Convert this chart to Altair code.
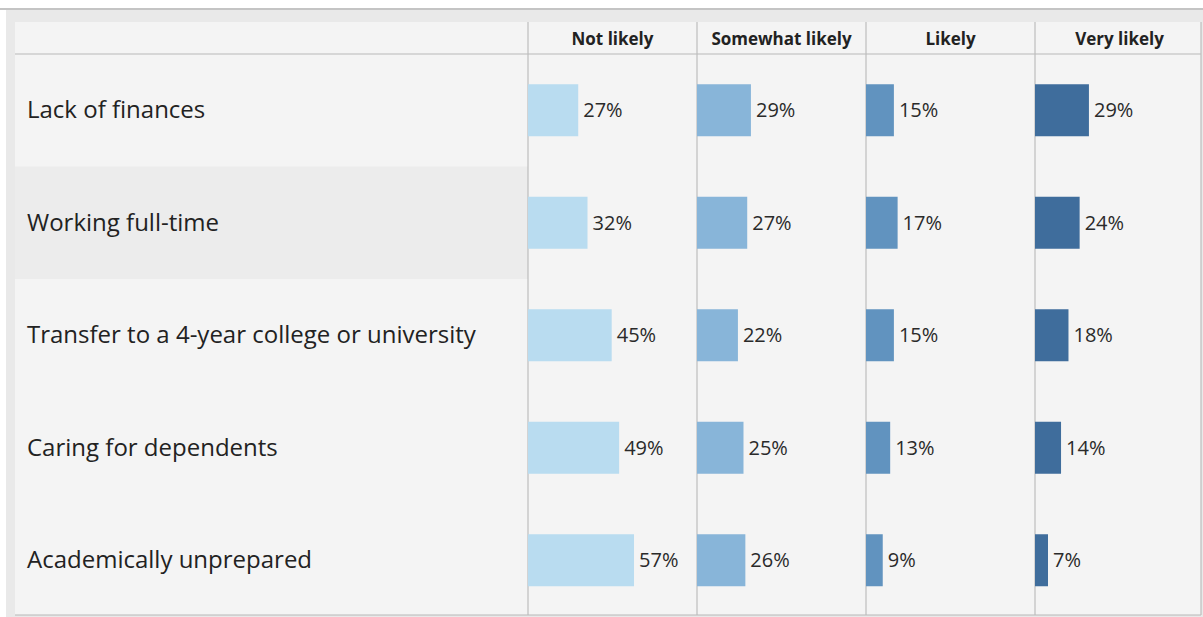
import altair as alt
import pandas as pd

# ---- data ----
reasons = [
    "Lack of finances",
    "Working full-time",
    "Transfer to a 4-year college or university",
    "Caring for dependents",
    "Academically unprepared",
]
levels = ["Not likely", "Somewhat likely", "Likely", "Very likely"]
not_likely = [27, 32, 45, 49, 57]
somewhat_likely = [29, 27, 22, 25, 26]
likely = [15, 17, 15, 13, 9]
very_likely = [29, 24, 18, 14, 7]
level_colors = ["#b9dcf0", "#88b5d9", "#6193bf", "#3f6d9c"]

# ---- layout (pixels) ----
W, H = 1203, 617
PX_PER_PCT = 1.86
COL_PX = 169
LABEL_RIGHT = 528      # left edge of first bar column
HEADER_TOP = 22
HEADER_BOTTOM = 54
ROW_PX = 112.5
TABLE_LEFT = 15
TABLE_RIGHT = 1201
OUTER_LEFT = 6
OUTER_TOP = 10
BOTTOM = 615
FONT = "Open Sans"


def ux(p):
    return (p - LABEL_RIGHT) / PX_PER_PCT


def uy(p):
    return (p - HEADER_BOTTOM) / ROW_PX


COL = COL_PX / PX_PER_PCT
BAR_HALF = 26 / ROW_PX

xs = alt.Scale(domain=[ux(0), ux(W)], nice=False, zero=False)
ys = alt.Scale(domain=[uy(0), uy(H)], nice=False, zero=False, reverse=True)


def X(f):
    return alt.X(f, type="quantitative", scale=xs, axis=None)


def Y(f):
    return alt.Y(f, type="quantitative", scale=ys, axis=None)


series = [not_likely, somewhat_likely, likely, very_likely]
rows = []
for j, lvl in enumerate(levels):
    for i, r in enumerate(reasons):
        v = series[j][i]
        rows.append(dict(
            reason=r, level=lvl, value=v,
            x0=j * COL, x1=j * COL + v,
            y0=i + 0.5 - BAR_HALF, y1=i + 0.5 + BAR_HALF,
            yc=i + 0.5, lx=j * COL + v + 5 / PX_PER_PCT,
            label=f"{v}%",
        ))
bars_df = pd.DataFrame(rows)

# background panels
bg_df = pd.DataFrame([
    dict(x0=ux(OUTER_LEFT), x1=ux(W), y0=uy(OUTER_TOP), y1=uy(H), c="#e9e9e9"),
    dict(x0=ux(TABLE_LEFT), x1=ux(TABLE_RIGHT), y0=uy(HEADER_TOP), y1=uy(BOTTOM), c="#f4f4f4"),
    dict(x0=ux(TABLE_LEFT), x1=ux(LABEL_RIGHT), y0=1.0, y1=2.0, c="#ececec"),
])
background = alt.Chart(bg_df).mark_rect().encode(
    x=X("x0"), x2="x1", y=Y("y0"), y2="y1",
    color=alt.Color("c:N", scale=None),
)

# top border line
top_df = pd.DataFrame([dict(x0=ux(0), x1=ux(W), y=uy(OUTER_TOP - 1))])
top_line = alt.Chart(top_df).mark_rule(color="#c4c4c4", strokeWidth=2).encode(
    x=X("x0"), x2="x1", y=Y("y")
)

# header underline and bottom line
hl_df = pd.DataFrame([
    dict(x0=ux(TABLE_LEFT), x1=ux(TABLE_RIGHT), y=0.0),
    dict(x0=ux(TABLE_LEFT), x1=ux(TABLE_RIGHT), y=uy(BOTTOM)),
])
h_lines = alt.Chart(hl_df).mark_rule(color="#b8b8b8", strokeWidth=1.2).encode(
    x=X("x0"), x2="x1", y=Y("y")
)

# vertical dividers
vl_df = pd.DataFrame([dict(x=j * COL, y0=uy(HEADER_TOP), y1=uy(BOTTOM)) for j in range(4)]
                     + [dict(x=ux(TABLE_RIGHT), y0=uy(HEADER_TOP), y1=uy(BOTTOM))])
v_lines = alt.Chart(vl_df).mark_rule(color="#bcbcbc", strokeWidth=1.2).encode(
    x=X("x"), y=Y("y0"), y2="y1"
)

# headers
hd_df = pd.DataFrame([dict(level=l, x=j * COL + COL / 2, y=uy((HEADER_TOP + HEADER_BOTTOM) / 2 + 2))
                      for j, l in enumerate(levels)])
headers = alt.Chart(hd_df).mark_text(
    font=FONT, fontSize=17, fontWeight="bold", color="#222222", align="center", baseline="middle"
).encode(x=X("x"), y=Y("y"), text="level:N")

# row labels
rl_df = pd.DataFrame([dict(reason=r, x=ux(27), y=i + 0.5) for i, r in enumerate(reasons)])
row_labels = alt.Chart(rl_df).mark_text(
    font=FONT, fontSize=24, color="#222222", align="left", baseline="middle", dy=1
).encode(x=X("x"), y=Y("y"), text="reason:N")

# bars
bars = alt.Chart(bars_df).mark_rect().encode(
    x=X("x0"), x2="x1", y=Y("y0"), y2="y1",
    color=alt.Color("level:N", scale=alt.Scale(domain=levels, range=level_colors), legend=None),
)

values = alt.Chart(bars_df).mark_text(
    font=FONT, fontSize=20, color="#2a2a2a", align="left", baseline="middle", dy=1
).encode(x=X("lx"), y=Y("yc"), text="label:N")

chart = alt.layer(
    background, top_line, h_lines, v_lines, headers, row_labels, bars, values
).resolve_scale(color="independent").properties(
    width=W, height=H, padding=0, autosize=alt.AutoSizeParams(type="none"),
    background="#ffffff",
).configure_view(stroke=None)

chart.save("out.html", embed_options={"renderer": "svg", "actions": False})
